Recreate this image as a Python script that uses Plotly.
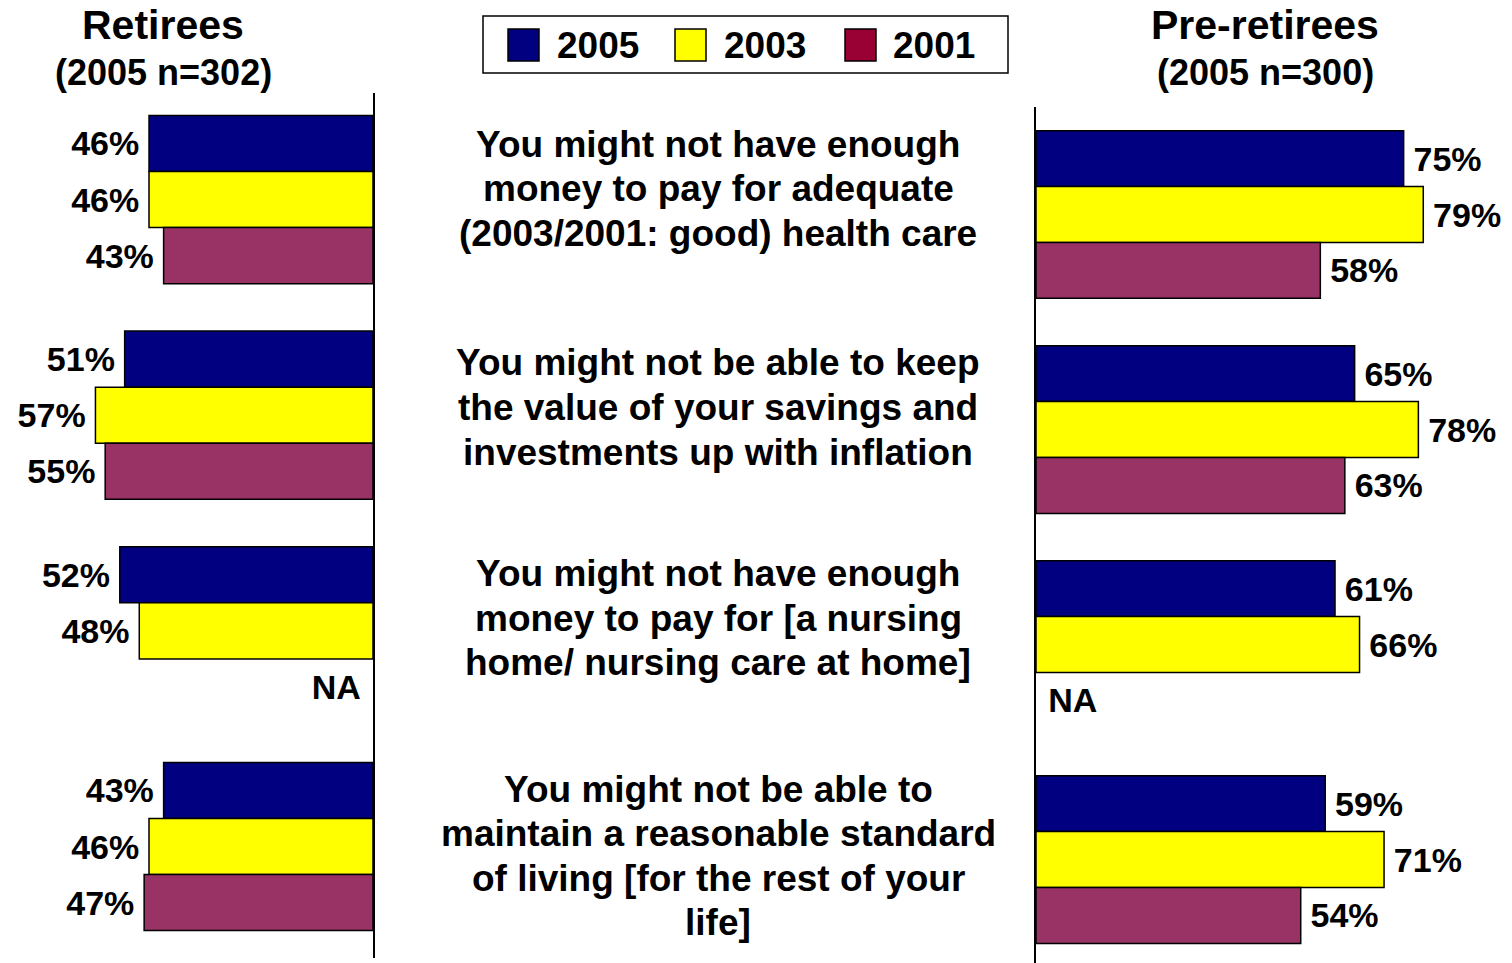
import plotly.graph_objects as go

W, H = 1512, 963

questions = [
    "You might not have enough<br>money to pay for adequate<br>(2003/2001: good) health care",
    "You might not be able to keep<br>the value of your savings and<br>investments up with inflation",
    "You might not have enough<br>money to pay for [a nursing<br>home/ nursing care at home]",
    "You might not be able to<br>maintain a reasonable standard<br>of living [for the rest of your<br>life]",
]
years = ["2005", "2003", "2001"]
bar_colors = ["#000080", "#FFFF00", "#993366"]
legend_colors = ["#000080", "#FFFF00", "#990033"]

retirees = {
    "2005": [46, 51, 52, 43],
    "2003": [46, 57, 48, 46],
    "2001": [43, 55, None, 47],
}
pre_retirees = {
    "2005": [75, 65, 61, 59],
    "2003": [79, 78, 66, 71],
    "2001": [58, 63, None, 54],
}

FONT = "Liberation Sans, Arial, Helvetica, sans-serif"
cats = [f"Q{i+1}" for i in range(len(questions))]
THIN = "\u2009"
NA_STUB = 0.5  # invisible stub so the "NA" label sits on the bar side of the axis

fig = go.Figure()


def add_panel(data, xa, ya, left):
    for yr, col in zip(years, bar_colors):
        vals = data[yr]
        xs = [v if v is not None else NA_STUB for v in vals]
        fills = [col if v is not None else "rgba(0,0,0,0)" for v in vals]
        lws = [1.5 if v is not None else 0 for v in vals]
        labels = [f"{v}%" if v is not None else "NA" for v in vals]
        txt = [f"<b>{s}{THIN}</b>" if left else f"<b>{THIN}{s}</b>" for s in labels]
        fig.add_trace(go.Bar(
            y=cats, x=xs, orientation="h", name=yr,
            marker=dict(color=fills, line=dict(color="#000000", width=lws)),
            text=txt, textposition="outside", cliponaxis=False,
            constraintext="none",
            textfont=dict(family=FONT, size=34, color="#000000"),
            xaxis=xa, yaxis=ya, showlegend=False, hoverinfo="skip",
        ))


add_panel(retirees, "x", "y", True)
add_panel(pre_retirees, "x2", "y2", False)


def py(pix):
    return 1 - pix / H


def px(pix):
    return pix / W


annotations = []
# panel titles
for cx, t1, t2 in [(163, "Retirees", "(2005 n=302)"), (1265, "Pre-retirees", "(2005 n=300)")]:
    annotations.append(dict(x=px(cx), y=py(25), xref="paper", yref="paper", text=f"<b>{t1}</b>",
                            showarrow=False, xanchor="center", yanchor="middle",
                            font=dict(family=FONT, size=41, color="#000000")))
    annotations.append(dict(x=px(cx), y=py(73), xref="paper", yref="paper", text=f"<b>{t2}</b>",
                            showarrow=False, xanchor="center", yanchor="middle",
                            font=dict(family=FONT, size=36, color="#000000")))

# question texts (one line at a time, 44.5 px leading)
centers = [188.5, 407.5, 618, 856]
for q, c in zip(questions, centers):
    lines = q.split("<br>")
    n = len(lines)
    for i, ln in enumerate(lines):
        yy = c + (i - (n - 1) / 2) * 44.5
        annotations.append(dict(x=px(718), y=py(yy), xref="paper", yref="paper", text=f"<b>{ln}</b>",
                                showarrow=False, xanchor="center", yanchor="middle",
                                font=dict(family=FONT, size=37, color="#000000")))

# legend box
shapes = [dict(type="rect", xref="paper", yref="paper", x0=px(483), x1=px(1008), y0=py(73), y1=py(16),
               line=dict(color="#000000", width=1.5), fillcolor="#FFFFFF")]
sw_x = [508, 675, 845]
tx_x = [555, 722, 891]
for yr, col, sx, tx in zip(years, legend_colors, sw_x, tx_x):
    shapes.append(dict(type="rect", xref="paper", yref="paper", x0=px(sx), x1=px(sx + 31),
                       y0=py(61), y1=py(29), line=dict(color="#000000", width=1.5), fillcolor=col))
    annotations.append(dict(x=px(tx), y=py(45), xref="paper", yref="paper", text=f"<b>{yr}</b>",
                            showarrow=False, xanchor="left", yanchor="middle",
                            font=dict(family=FONT, size=37, color="#000000")))

fig.update_layout(
    width=W, height=H,
    margin=dict(l=0, r=0, t=0, b=0),
    paper_bgcolor="#FFFFFF", plot_bgcolor="rgba(0,0,0,0)",
    barmode="group", bargap=0.22, bargroupgap=0,
    showlegend=False,
    xaxis=dict(domain=[0, px(373)], range=[76.6, 0], visible=False),
    yaxis=dict(domain=[py(958), py(93)], range=[3.517, -0.494], side="right",
               showline=True, linecolor="#000000", linewidth=1.5, showticklabels=False,
               ticks="", showgrid=False, zeroline=False, anchor="x"),
    xaxis2=dict(domain=[px(1036), 1], range=[0, 97.1], visible=False, anchor="y2"),
    yaxis2=dict(domain=[0, py(107)], range=[3.481, -0.5], side="left",
                showline=True, linecolor="#000000", linewidth=1.5, showticklabels=False,
                ticks="", showgrid=False, zeroline=False, anchor="x2"),
    annotations=annotations,
    shapes=shapes,
)

fig.write_html("out.html", config={"displayModeBar": False},
               post_script="document.body.style.margin='0';")
